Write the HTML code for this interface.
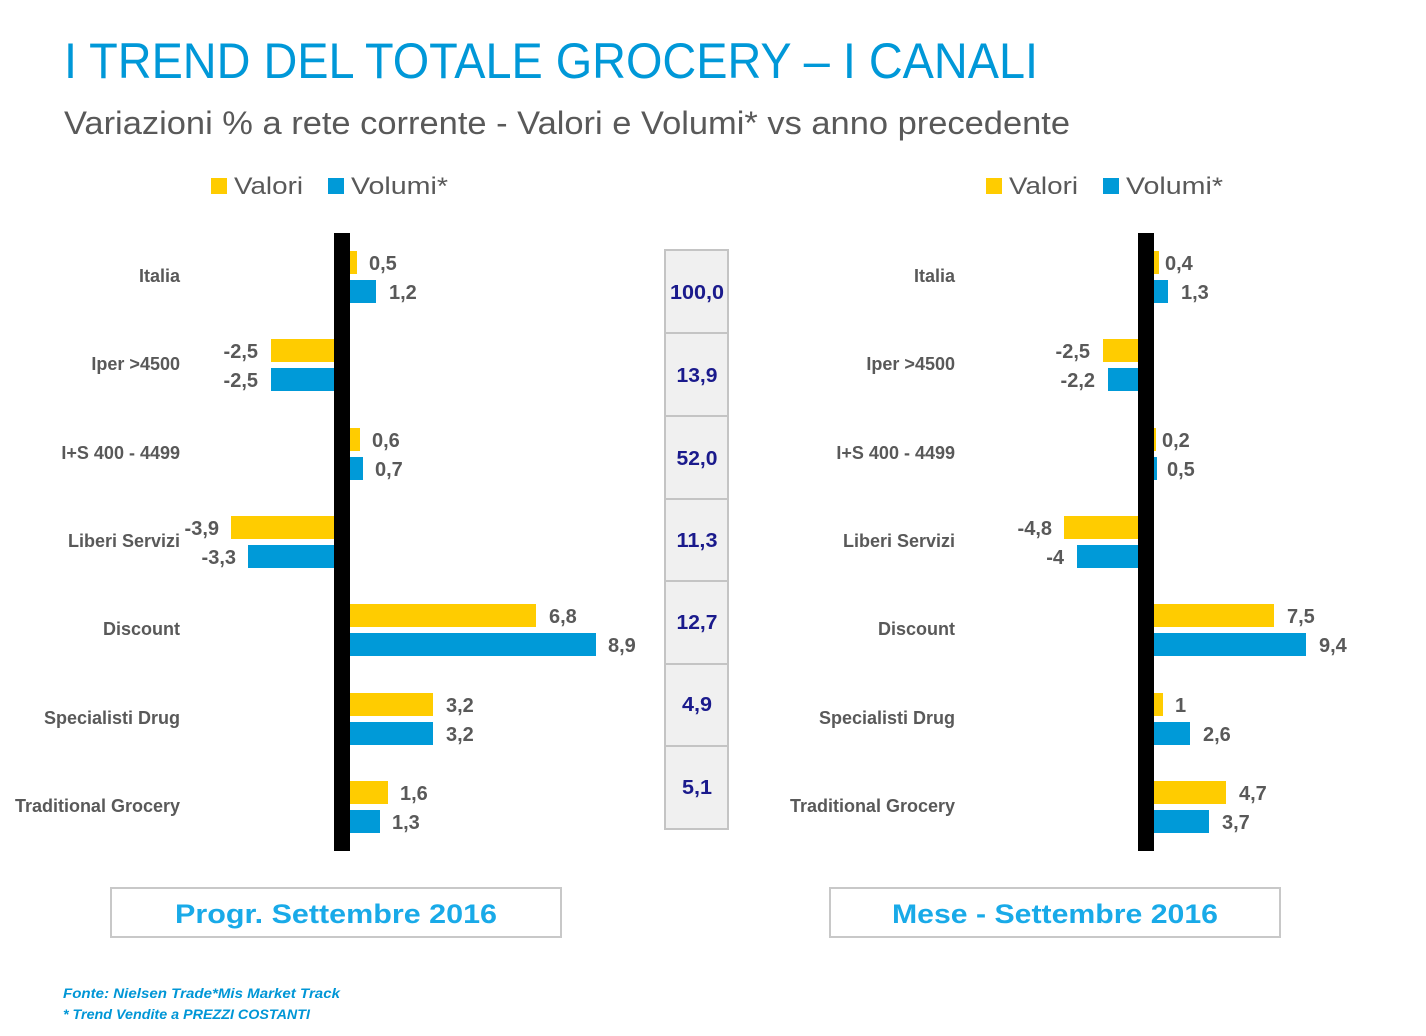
<!DOCTYPE html>
<html><head><meta charset="utf-8"><style>
html,body{margin:0;padding:0;background:#fff;}
svg{display:block;}
.cat{font-family:"Liberation Sans",sans-serif;font-size:18px;font-weight:bold;fill:#595959;text-anchor:end;}
.val{font-family:"Liberation Sans",sans-serif;font-size:20px;font-weight:bold;fill:#595959;}
.neg{text-anchor:end;}
.leg{font-family:"Liberation Sans",sans-serif;font-size:24px;fill:#595959;}
.tb{font-family:"Liberation Sans",sans-serif;font-size:20px;font-weight:bold;fill:#1a1a8c;text-anchor:middle;}
.box{font-family:"Liberation Sans",sans-serif;font-size:27px;font-weight:bold;fill:#19aae8;text-anchor:middle;}
.foot{font-family:"Liberation Sans",sans-serif;font-size:14px;font-weight:bold;font-style:italic;fill:#0096d6;}
</style></head><body>
<svg width="1426" height="1036" viewBox="0 0 1426 1036" xmlns="http://www.w3.org/2000/svg">
<text x="64" y="78" font-family="Liberation Sans,sans-serif" font-size="50" fill="#0098d8" textLength="974" lengthAdjust="spacingAndGlyphs">I TREND DEL TOTALE GROCERY – I CANALI</text>
<text x="64" y="134" font-family="Liberation Sans,sans-serif" font-size="32" fill="#595959" textLength="1006" lengthAdjust="spacingAndGlyphs">Variazioni % a rete corrente - Valori e Volumi* vs anno precedente</text>

<rect x="211" y="178" width="16" height="16" fill="#ffcc00"/><text class="leg" x="234" y="194" textLength="69" lengthAdjust="spacingAndGlyphs">Valori</text>
<rect x="328" y="178" width="16" height="16" fill="#009ad8"/><text class="leg" x="351" y="194" textLength="97" lengthAdjust="spacingAndGlyphs">Volumi*</text>
<rect x="986" y="178" width="16" height="16" fill="#ffcc00"/><text class="leg" x="1009" y="194" textLength="69" lengthAdjust="spacingAndGlyphs">Valori</text>
<rect x="1103" y="178" width="16" height="16" fill="#009ad8"/><text class="leg" x="1126" y="194" textLength="97" lengthAdjust="spacingAndGlyphs">Volumi*</text>

<g class="cat">
<text x="180" y="282">Italia</text>
<text x="180" y="370">Iper &gt;4500</text>
<text x="180" y="459">I+S 400 - 4499</text>
<text x="180" y="547">Liberi Servizi</text>
<text x="180" y="635">Discount</text>
<text x="180" y="724">Specialisti Drug</text>
<text x="180" y="812">Traditional Grocery</text>
</g>
<g class="cat">
<text x="955" y="282">Italia</text>
<text x="955" y="370">Iper &gt;4500</text>
<text x="955" y="459">I+S 400 - 4499</text>
<text x="955" y="547">Liberi Servizi</text>
<text x="955" y="635">Discount</text>
<text x="955" y="724">Specialisti Drug</text>
<text x="955" y="812">Traditional Grocery</text>
</g>

<g>
<rect x="350" y="251" width="7" height="23" fill="#ffcc00"/><rect x="350" y="280" width="26" height="23" fill="#009ad8"/>
<rect x="271" y="339" width="63" height="23" fill="#ffcc00"/><rect x="271" y="368" width="63" height="23" fill="#009ad8"/>
<rect x="350" y="428" width="10" height="23" fill="#ffcc00"/><rect x="350" y="457" width="13" height="23" fill="#009ad8"/>
<rect x="231" y="516" width="103" height="23" fill="#ffcc00"/><rect x="248" y="545" width="86" height="23" fill="#009ad8"/>
<rect x="350" y="604" width="186" height="23" fill="#ffcc00"/><rect x="350" y="633" width="246" height="23" fill="#009ad8"/>
<rect x="350" y="693" width="83" height="23" fill="#ffcc00"/><rect x="350" y="722" width="83" height="23" fill="#009ad8"/>
<rect x="350" y="781" width="38" height="23" fill="#ffcc00"/><rect x="350" y="810" width="30" height="23" fill="#009ad8"/>
<rect x="334" y="233" width="16" height="618" fill="#000"/>
</g>
<g class="val">
<text x="369" y="270">0,5</text><text x="389" y="299">1,2</text>
<text class="neg" x="258" y="358">-2,5</text><text class="neg" x="258" y="387">-2,5</text>
<text x="372" y="447">0,6</text><text x="375" y="476">0,7</text>
<text class="neg" x="219" y="535">-3,9</text><text class="neg" x="236" y="564">-3,3</text>
<text x="549" y="623">6,8</text><text x="608" y="652">8,9</text>
<text x="446" y="712">3,2</text><text x="446" y="741">3,2</text>
<text x="400" y="800">1,6</text><text x="392" y="829">1,3</text>
</g>

<g>
<rect x="1154" y="251" width="5" height="23" fill="#ffcc00"/><rect x="1154" y="280" width="14" height="23" fill="#009ad8"/>
<rect x="1103" y="339" width="35" height="23" fill="#ffcc00"/><rect x="1108" y="368" width="30" height="23" fill="#009ad8"/>
<rect x="1154" y="428" width="2" height="23" fill="#ffcc00"/><rect x="1154" y="457" width="3" height="23" fill="#009ad8"/>
<rect x="1064" y="516" width="74" height="23" fill="#ffcc00"/><rect x="1077" y="545" width="61" height="23" fill="#009ad8"/>
<rect x="1154" y="604" width="120" height="23" fill="#ffcc00"/><rect x="1154" y="633" width="152" height="23" fill="#009ad8"/>
<rect x="1154" y="693" width="9" height="23" fill="#ffcc00"/><rect x="1154" y="722" width="36" height="23" fill="#009ad8"/>
<rect x="1154" y="781" width="72" height="23" fill="#ffcc00"/><rect x="1154" y="810" width="55" height="23" fill="#009ad8"/>
<rect x="1138" y="233" width="16" height="618" fill="#000"/>
</g>
<g class="val">
<text x="1165" y="270">0,4</text><text x="1181" y="299">1,3</text>
<text class="neg" x="1090" y="358">-2,5</text><text class="neg" x="1095" y="387">-2,2</text>
<text x="1162" y="447">0,2</text><text x="1167" y="476">0,5</text>
<text class="neg" x="1052" y="535">-4,8</text><text class="neg" x="1064" y="564">-4</text>
<text x="1287" y="623">7,5</text><text x="1319" y="652">9,4</text>
<text x="1175" y="712">1</text><text x="1203" y="741">2,6</text>
<text x="1239" y="800">4,7</text><text x="1222" y="829">3,7</text>
</g>

<g stroke="#c4c4c4" stroke-width="2" fill="#f0f0f0">
<rect x="665" y="250" width="63" height="83"/>
<rect x="665" y="333" width="63" height="83"/>
<rect x="665" y="416" width="63" height="83"/>
<rect x="665" y="499" width="63" height="82"/>
<rect x="665" y="581" width="63" height="83"/>
<rect x="665" y="664" width="63" height="82"/>
<rect x="665" y="746" width="63" height="83"/>
</g>
<g class="tb">
<text x="697" y="299" textLength="54" lengthAdjust="spacingAndGlyphs">100,0</text>
<text x="697" y="382" textLength="41" lengthAdjust="spacingAndGlyphs">13,9</text>
<text x="697" y="465" textLength="41" lengthAdjust="spacingAndGlyphs">52,0</text>
<text x="697" y="547" textLength="41" lengthAdjust="spacingAndGlyphs">11,3</text>
<text x="697" y="629" textLength="41" lengthAdjust="spacingAndGlyphs">12,7</text>
<text x="697" y="711" textLength="30" lengthAdjust="spacingAndGlyphs">4,9</text>
<text x="697" y="794" textLength="30" lengthAdjust="spacingAndGlyphs">5,1</text>
</g>

<rect x="111" y="888" width="450" height="49" fill="#fff" stroke="#c8c8c8" stroke-width="2"/>
<text class="box" x="336" y="923" textLength="322" lengthAdjust="spacingAndGlyphs">Progr. Settembre 2016</text>
<rect x="830" y="888" width="450" height="49" fill="#fff" stroke="#c8c8c8" stroke-width="2"/>
<text class="box" x="1055" y="923" textLength="326" lengthAdjust="spacingAndGlyphs">Mese - Settembre 2016</text>

<text class="foot" x="63" y="998" textLength="277" lengthAdjust="spacingAndGlyphs">Fonte: Nielsen Trade*Mis  Market Track</text>
<text class="foot" x="63" y="1019" textLength="247" lengthAdjust="spacingAndGlyphs">* Trend Vendite a PREZZI COSTANTI</text>
</svg>
</body></html>
